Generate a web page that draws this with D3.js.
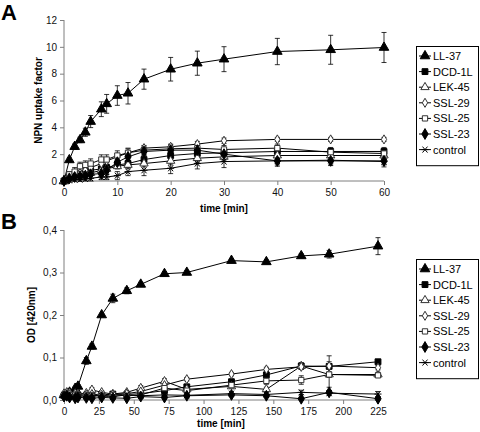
<!DOCTYPE html>
<html><head><meta charset="utf-8">
<script src="https://cdn.jsdelivr.net/npm/d3@7"></script>
<style>body{margin:0;background:#fff}svg{display:block;font-family:"Liberation Sans",Arial,sans-serif}</style>
</head><body><svg id="c" width="480" height="432"></svg>
<script>
const seriesNames = ["LL-37","DCD-1L","LEK-45","SSL-29","SSL-25","SSL-23","control"];
// Panel A
const timeA = [0,1,2,3,4,5,7,8,10,12,15,20,25,30,40,50,60];
const ll37A   = [0,1.57,2.56,3.06,3.63,4.43,5.35,5.75,6.37,6.54,7.59,8.33,8.78,9.08,9.65,9.78,9.95];
const ll37Aerr= [0,0.15,0.2,0.2,0.3,0.45,0.55,0.7,0.73,0.8,0.75,0.88,0.9,0.93,0.98,1.08,1.12];
const dcdA    = [0,0.3,0.4,0.5,0.6,0.8,0.9,1.0,1.2,1.3,1.6,1.9,2.05,2.1,2.2,2.2,2.2];
const dcdAerr = [0,0.1,0.1,0.15,0.15,0.2,0.2,0.2,0.25,0.25,0.3,0.3,0.3,0.3,0.3,0.3,0.3];
const lekA    = [0,0.2,0.3,0.4,0.5,0.6,0.8,0.9,1.1,1.2,1.3,1.5,1.7,1.8,1.9,1.9,1.9];
const lekAerr = [0,0.1,0.1,0.1,0.15,0.15,0.2,0.2,0.2,0.25,0.25,0.3,0.3,0.3,0.3,0.3,0.3];
const ssl29A  = [0,0.4,0.5,0.6,0.8,1.0,1.3,1.5,1.8,2.1,2.45,2.55,2.75,3.0,3.1,3.1,3.1];
const ssl29Aerr=[0,0.1,0.1,0.15,0.15,0.2,0.2,0.25,0.25,0.3,0.2,0.2,0.2,0.2,0.15,0.15,0.15];
const ssl25A  = [0,0.5,0.7,1.1,1.2,1.3,1.6,1.6,1.9,2.1,2.3,2.4,2.45,2.35,2.45,2.15,2.05];
const ssl25Aerr=[0,0.2,0.3,0.3,0.3,0.35,0.35,0.35,0.35,0.35,0.3,0.3,0.3,0.3,0.3,0.3,0.3];
const ssl23A  = [0,0.2,0.3,0.35,0.4,0.5,0.55,0.8,1.4,1.8,2.2,2.3,2.3,2.0,1.5,1.5,1.5];
const ssl23Aerr=[0,0.1,0.1,0.1,0.1,0.1,0.15,0.2,0.2,0.25,0.25,0.25,0.3,0.3,0.3,0.3,0.3];
const ctrlA   = [0,0.05,0.1,0.1,0.15,0.2,0.3,0.3,0.4,0.7,0.8,0.95,1.3,1.45,1.5,1.55,1.45];
const ctrlAerr= [0,0.1,0.1,0.1,0.15,0.2,0.2,0.2,0.3,0.3,0.4,0.4,0.4,0.45,0.4,0.4,0.4];
const yTicksA = [0,2,4,6,8,10,12];
const xTicksA = [0,10,20,30,40,50,60];
// Panel B
const timeB = [0,2,4,8,10,16,20,27,35,45,55,72,88,120,145,170,190,225];
const ll37B   = [0.012,0.015,0.018,0.027,0.032,0.092,0.126,0.200,0.239,0.257,0.272,0.297,0.300,0.328,0.325,0.339,0.343,0.362];
const ll37Berr= [0.003,0.003,0.003,0.004,0.004,0.008,0.006,0.004,0.010,0.007,0.005,0.005,0.004,0.004,0.004,0.005,0.009,0.020];
const dcdB    = [0.010,0.012,0.013,0.010,0.012,0.011,0.010,0.012,0.014,0.013,0.015,0.022,0.031,0.043,0.059,0.080,0.079,0.090];
const dcdBerr = [0.004,0.004,0.004,0.004,0.004,0.004,0.004,0.004,0.004,0.004,0.005,0.006,0.006,0.006,0.007,0.008,0.025,0.004];
const lekB    = [0.015,0.018,0.016,0.015,0.014,0.016,0.024,0.018,0.014,0.018,0.028,0.044,0.025,0.032,0.025,0.080,0.060,0.060];
const lekBerr = [0.004,0.004,0.004,0.004,0.004,0.004,0.005,0.004,0.004,0.004,0.006,0.006,0.005,0.005,0.005,0.006,0.006,0.005];
const ssl29B  = [0.012,0.014,0.012,0.010,0.011,0.012,0.014,0.012,0.013,0.015,0.020,0.035,0.049,0.061,0.072,0.078,0.080,0.076];
const ssl29Berr=[0.004,0.004,0.004,0.004,0.004,0.004,0.004,0.004,0.004,0.004,0.004,0.005,0.004,0.004,0.005,0.005,0.005,0.005];
const ssl25B  = [0.010,0.012,0.011,0.012,0.010,0.010,0.011,0.010,0.012,0.010,0.012,0.028,0.022,0.035,0.045,0.047,0.060,0.058];
const ssl25Berr=[0.004,0.004,0.004,0.004,0.004,0.004,0.004,0.004,0.004,0.004,0.005,0.006,0.005,0.006,0.008,0.010,0.030,0.005];
const ssl23B  = [0.008,0.010,0.006,0.004,0.006,0.005,0.004,0.006,0.005,0.004,0.008,0.006,0.010,0.012,0.010,0.003,0.018,0.003];
const ssl23Berr=[0.003,0.003,0.003,0.003,0.003,0.003,0.003,0.003,0.003,0.003,0.004,0.004,0.004,0.003,0.003,0.003,0.004,0.003];
const ctrlB   = [0.012,0.010,0.008,0.009,0.012,0.008,0.010,0.009,0.008,0.012,0.010,0.012,0.011,0.015,0.013,0.018,0.016,0.014];
const ctrlBerr= [0.004,0.004,0.004,0.004,0.004,0.004,0.004,0.004,0.004,0.004,0.004,0.004,0.004,0.004,0.004,0.005,0.005,0.006];
const yTicksB = [0,0.1,0.2,0.3,0.4];
const xTicksB = [0,25,50,75,100,125,150,175,200,225];

const symbolDefs = [
  {type:d3.symbolTriangle, size:40, fill:"#000"},
  {type:d3.symbolSquare, size:34, fill:"#000"},
  {type:d3.symbolTriangle, size:30, fill:"#fff"},
  {type:d3.symbolDiamond, size:24, fill:"#fff"},
  {type:d3.symbolSquare, size:28, fill:"#fff"},
  {type:d3.symbolDiamond, size:34, fill:"#000"},
  {type:"star", size:0, fill:"none"}
];
const starPath = "M-3.5,0L3.5,0M-2.5,-3L2.5,3M-2.5,3L2.5,-3";

const svg = d3.select("#c");

function drawMarker(g, i, x, y) {
  const s = symbolDefs[i];
  if (s.type === "star") {
    g.append("path").attr("d", starPath).attr("transform", `translate(${x},${y})`)
      .attr("stroke","#000").attr("stroke-width",1).attr("fill","none");
  } else {
    g.append("path").attr("d", d3.symbol().type(s.type).size(s.size)())
      .attr("transform", `translate(${x},${y})`)
      .attr("fill", s.fill).attr("stroke", s.fill === "#fff" ? "#333" : "#000").attr("stroke-width",1);
  }
}

function panel(opts) {
  const {times, series, errs, xDom, xRange, yDom, yRange, yTicks, xTicks, yFmt, yTitle, yTitleX, xTitleY, label, labelY, legendTop} = opts;
  const x = d3.scaleLinear().domain(xDom).range(xRange);
  const y = d3.scaleLinear().domain(yDom).range(yRange);
  const g = svg.append("g");
  const ya = g.append("g").attr("transform",`translate(${xRange[0]},0)`)
    .call(d3.axisLeft(y).tickValues(yTicks).tickSize(4).tickPadding(3).tickFormat(yFmt));
  const xa = g.append("g").attr("transform",`translate(0,${yRange[0]})`)
    .call(d3.axisBottom(x).tickValues(xTicks).tickSize(4).tickPadding(4));
  [ya, xa].forEach(a => {
    a.selectAll("path,line").attr("stroke","#7f7f7f").attr("stroke-width",1);
    a.selectAll("text").attr("font-size",10).attr("fill","#111").attr("font-family","Liberation Sans, Arial, sans-serif");
  });
  ya.select(".domain").attr("d",`M0,${yRange[0]}V${yRange[1]}`);
  xa.select(".domain").attr("d",`M${xRange[0]},0H${xRange[1]}`);
  g.append("text").attr("transform",`translate(${yTitleX},${(yRange[0]+yRange[1])/2}) rotate(-90)`)
    .attr("text-anchor","middle").attr("font-size",10).attr("font-weight","bold").text(yTitle);
  g.append("text").attr("x",(xRange[0]+xRange[1])/2).attr("y",xTitleY)
    .attr("text-anchor","middle").attr("font-size",10).attr("font-weight","bold").text("time [min]");
  g.append("text").attr("x",1).attr("y",labelY).attr("font-size",22).attr("font-weight","bold").text(label);
  const line = d3.line().x((d,i)=>x(times[i])).y(d=>y(d));
  series.forEach((vals, si) => {
    g.append("path").attr("d", line(vals)).attr("fill","none").attr("stroke","#000").attr("stroke-width",1);
  });
  series.forEach((vals, si) => {
    const e = errs[si];
    vals.forEach((v, i) => {
      if (e[i] <= 0) return;
      const cx = x(times[i]), y1 = y(v + e[i]), y2 = y(v - e[i]);
      g.append("path").attr("d",`M${cx},${y1}V${y2}M${cx-2.5},${y1}H${cx+2.5}M${cx-2.5},${y2}H${cx+2.5}`)
        .attr("stroke","#000").attr("stroke-width",0.8).attr("fill","none");
    });
  });
  series.forEach((vals, si) => {
    const mg = g.append("g");
    vals.forEach((v, i) => drawMarker(mg, si, x(times[i]), y(v)));
  });
  const lg = g.append("g");
  const step = 15.6;
  lg.append("rect").attr("x",416.5).attr("y",legendTop+0.5).attr("width",62).attr("height",step*7+10)
    .attr("fill","#fff").attr("stroke","#000").attr("stroke-width",1);
  seriesNames.forEach((n, i) => {
    const cy = legendTop + 10 + i*step;
    lg.append("line").attr("x1",419).attr("x2",431).attr("y1",cy).attr("y2",cy).attr("stroke","#000");
    drawMarker(lg, i, 425, cy);
    lg.append("text").attr("x",433).attr("y",cy+4).attr("font-size",11).attr("fill","#000").text(n);
  });
}

panel({
  times: timeA,
  series: [ll37A,dcdA,lekA,ssl29A,ssl25A,ssl23A,ctrlA],
  errs: [ll37Aerr,dcdAerr,lekAerr,ssl29Aerr,ssl25Aerr,ssl23Aerr,ctrlAerr],
  xDom:[0,60], xRange:[64,384], yDom:[0,12], yRange:[181,20],
  yTicks:yTicksA, xTicks:xTicksA, yFmt:d3.format("d"),
  yTitle:"NPN uptake factor", yTitleX:42, xTitleY:212, label:"A", labelY:20, legendTop:46
});
panel({
  times: timeB,
  series: [ll37B,dcdB,lekB,ssl29B,ssl25B,ssl23B,ctrlB],
  errs: [ll37Berr,dcdBerr,lekBerr,ssl29Berr,ssl25Berr,ssl23Berr,ctrlBerr],
  xDom:[0,225], xRange:[64,378], yDom:[0,0.4], yRange:[400,230],
  yTicks:yTicksB, xTicks:xTicksB, yFmt:d=>d3.format(".1f")(d).replace(".",","),
  yTitle:"OD [420nm]", yTitleX:35, xTitleY:427, label:"B", labelY:229, legendTop:259
});
</script></body></html>
